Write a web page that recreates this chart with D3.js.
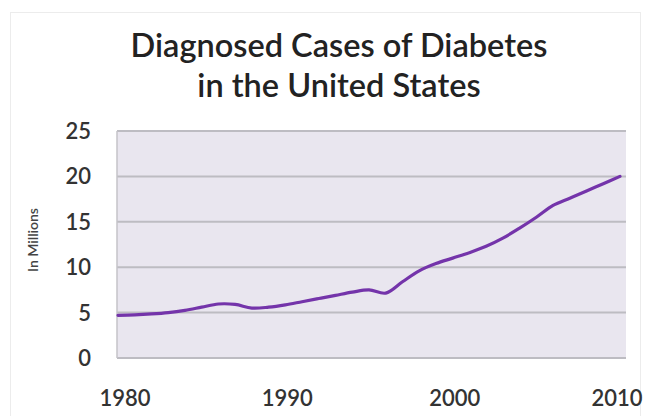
<!DOCTYPE html>
<html>
<head>
<meta charset="utf-8">
<script src="https://cdn.jsdelivr.net/npm/d3@7"></script>
<style>
  body { margin: 0; background: #fff; }
  svg text { font-family: Lato, "Open Sans", sans-serif; }
</style>
</head>
<body>
<div id="chart"></div>
<script>
// values (millions)
const years = d3.range(1980, 2011);
const cases = [
  4.7, 4.75, 4.85, 5.0, 5.25, 5.6, 5.95, 5.9, 5.5, 5.6,
  5.85, 6.2, 6.55, 6.9, 7.25, 7.5, 7.15, 8.4, 9.6, 10.4,
  11.0, 11.6, 12.3, 13.2, 14.3, 15.5, 16.8, 17.6, 18.4, 19.2,
  20.0
];
const xTicks = [1980, 1990, 2000, 2010];
const yTicks = [0, 5, 10, 15, 20, 25];
const titleLines = ["Diagnosed Cases of Diabetes", "in the United States"];
const yLabel = "In Millions";

const width = 652;
const height = 416;

const svg = d3.select("#chart")
    .append("svg")
    .attr("width", width)
    .attr("height", height);

// faint outer frame
svg.append("rect")
    .attr("x", 10.5).attr("y", 12.5)
    .attr("width", 630).attr("height", 420)
    .attr("fill", "none")
    .attr("stroke", "#ececec");

const plot = { left: 117, right: 626, top: 131, bottom: 358 };

const x = d3.scaleLinear().domain([1980, 2010]).range([plot.left + 1, 620]);
const y = d3.scaleLinear().domain([0, 25]).range([plot.bottom, plot.top]);

svg.append("rect")
    .attr("x", plot.left).attr("y", plot.top)
    .attr("width", plot.right - plot.left)
    .attr("height", plot.bottom - plot.top)
    .attr("fill", "#e9e6ef");

// gridlines
svg.append("g")
    .selectAll("line")
    .data(yTicks)
    .enter()
    .append("line")
    .attr("x1", plot.left).attr("x2", plot.right)
    .attr("y1", d => y(d)).attr("y2", d => y(d))
    .attr("stroke", "#bdbcc2")
    .attr("stroke-width", 2);

svg.append("line")
    .attr("x1", plot.left).attr("x2", plot.left)
    .attr("y1", plot.top).attr("y2", plot.bottom)
    .attr("stroke", "#c4c3c8")
    .attr("stroke-width", 1.5);

// y tick labels
svg.append("g")
    .selectAll("text")
    .data(yTicks)
    .enter()
    .append("text")
    .attr("x", 91)
    .attr("y", d => y(d))
    .attr("dy", "0.36em")
    .attr("text-anchor", "end")
    .attr("font-size", 22)
    .attr("font-weight", 600)
    .attr("fill", "#333")
    .text(d => d);

// x tick labels
svg.append("g")
    .selectAll("text")
    .data(xTicks)
    .enter()
    .append("text")
    .attr("x", d => x(d) + (d === 1980 ? 7 : d === 2010 ? -3 : 2))
    .attr("y", 406)
    .attr("text-anchor", "middle")
    .attr("font-size", 22)
    .attr("font-weight", 600)
    .attr("fill", "#333")
    .text(d => d);

svg.append("text")
    .attr("transform", "translate(38,240) rotate(-90)")
    .attr("text-anchor", "middle")
    .attr("font-size", 14)
    .attr("font-weight", 600)
    .attr("fill", "#444")
    .text(yLabel);

// title
svg.append("g")
    .selectAll("text")
    .data(titleLines)
    .enter()
    .append("text")
    .attr("x", 339)
    .attr("y", (d, i) => 57 + i * 40)
    .attr("text-anchor", "middle")
    .attr("font-size", 32.5)
    .attr("font-weight", 600)
    .attr("fill", "#222")
    .text(d => d);

const line = d3.line()
    .x((d, i) => x(years[i]))
    .y(d => y(d))
    .curve(d3.curveCatmullRom);

svg.append("path")
    .datum(cases)
    .attr("d", line)
    .attr("fill", "none")
    .attr("stroke", "#7434aa")
    .attr("stroke-width", 3.2)
    .attr("stroke-linecap", "round");
</script>
</body>
</html>
